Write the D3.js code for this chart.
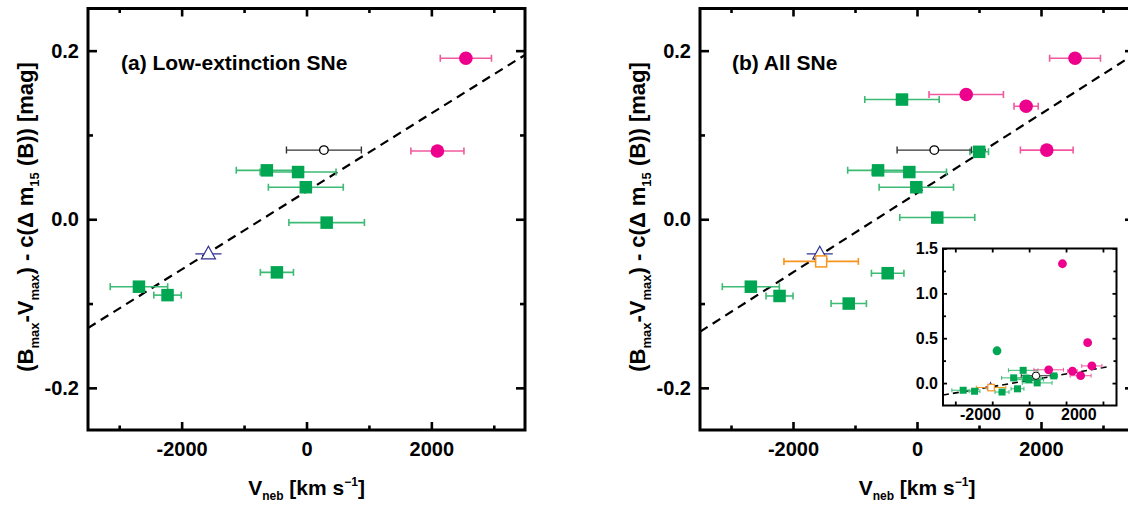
<!DOCTYPE html>
<html><head><meta charset="utf-8">
<script src="https://cdn.jsdelivr.net/npm/d3@7"></script>
<style>
html,body{margin:0;padding:0;background:#fff;}
svg text{font-family:"Liberation Sans",Arial,sans-serif;font-weight:bold;fill:#000;}
</style></head>
<body>
<svg id="chart" width="1128" height="506"></svg>
<script>
// ---------- data: [V_neb, value, xerr] ----------
// Panel (a) Low-extinction SNe
const aMagenta  = [[2553, 0.191, 410], [2097, 0.081, 425]];
const aOpen     = [[279, 0.082, 600]];
const aTriangle = [[-1571, -0.041, 210]];
const aGreen    = [[-635, 0.058, 490], [-135, 0.056, 608], [-11, 0.038, 600], [323, -0.004, 605],
                   [-474, -0.063, 265], [-2684, -0.080, 460], [-2226, -0.090, 220]];
const aFit      = [[-3500, -0.129], [3500, 0.195]];

// Panel (b) All SNe
const bMagenta  = [[2549, 0.191, 410], [794, 0.148, 600], [1760, 0.134, 195], [2093, 0.082, 425]];
const bOpen     = [[279, 0.082, 600]];
const bTriangle = [[-1568, -0.041, 210]];
const bOrange   = [[-1546, -0.050, 600]];
const bGreen    = [[-242, 0.142, 600], [1003, 0.080, 150], [-628, 0.058, 490], [-124, 0.056, 600],
                   [-11, 0.038, 600], [327, 0.002, 605], [-473, -0.064, 262], [-2680, -0.080, 460],
                   [-2217, -0.091, 218], [-1101, -0.100, 285]];
const bFit      = [[-3500, -0.1335], [3500, 0.1955]];

// Inset extra points (no error bars)
const insetMagenta = [[1354, 1.33], [2378, 0.45]];
const insetGreenCircle = [[-1305, 0.36]];
const insetFit = [[-3500, -0.1335], [3200, 0.181]];

// ticks
const xMajor = [-2000, 0, 2000];
const xMinor = [-3000, -1000, 1000, 3000];
const yMajor = [-0.2, 0.0, 0.2];
const yMinor = [-0.1, 0.1];
const insetXTicks = [-3000, -1500, 0, 1500, 3000];
const insetXLabels = [-2000, 0, 2000];
const insetYTicks = [0, 0.5, 1.0, 1.5];
const insetYMinor = [0.25, 0.75, 1.25];

const C = {
  green: "#00a651", greenErr: "#3dba74",
  magenta: "#ec008c", magentaErr: "#f0589f",
  orange: "#f7941d", navy: "#2e3192", black: "#000", blackErr: "#333"
};

const svg = d3.select("#chart");
svg.append("rect").attr("width", 1128).attr("height", 506).attr("fill", "#fff");

function errBars(g, data, x, y, color, cap, sw) {
  data.forEach(d => {
    if (!d[2]) return;
    const x0 = x(d[0] - d[2]), x1 = x(d[0] + d[2]), yy = y(d[1]);
    g.append("line").attr("x1", x0).attr("x2", x1).attr("y1", yy).attr("y2", yy)
      .attr("stroke", color).attr("stroke-width", sw);
    [x0, x1].forEach(xx => g.append("line").attr("x1", xx).attr("x2", xx)
      .attr("y1", yy - cap).attr("y2", yy + cap).attr("stroke", color).attr("stroke-width", sw));
  });
}
function squares(g, data, x, y, s, fill, stroke, sw) {
  g.selectAll(null).data(data).enter().append("rect")
    .attr("x", d => x(d[0]) - s / 2).attr("y", d => y(d[1]) - s / 2)
    .attr("width", s).attr("height", s)
    .attr("fill", fill).attr("stroke", stroke || "none").attr("stroke-width", sw || 0);
}
function circles(g, data, x, y, r, fill, stroke, sw) {
  g.selectAll(null).data(data).enter().append("circle")
    .attr("cx", d => x(d[0])).attr("cy", d => y(d[1])).attr("r", r)
    .attr("fill", fill).attr("stroke", stroke || "none").attr("stroke-width", sw || 0);
}
function triangles(g, data, x, y, w, up, down) {
  g.selectAll(null).data(data).enter().append("path")
    .attr("d", d => {
      const cx = x(d[0]), cy = y(d[1]);
      return `M${cx},${cy - up}L${cx + w / 2},${cy + down}L${cx - w / 2},${cy + down}Z`;
    })
    .attr("fill", "#fff").attr("stroke", C.navy).attr("stroke-width", 1.2);
}

function panel(opt) {
  const x = d3.scaleLinear().domain([-3500, 3500]).range([opt.left, opt.right]);
  const y = d3.scaleLinear().domain([-0.25, 0.25]).range([opt.bottom, opt.top]);
  const g = svg.append("g");
  const cid = "clip" + opt.id;
  svg.append("clipPath").attr("id", cid).append("rect")
    .attr("x", opt.left).attr("y", opt.top).attr("width", opt.right - opt.left).attr("height", opt.bottom - opt.top);
  const plot = g.append("g").attr("clip-path", `url(#${cid})`);

  // fit line
  plot.append("path").datum(opt.fit)
    .attr("d", d3.line().x(d => x(d[0])).y(d => y(d[1])))
    .attr("fill", "none").attr("stroke", "#000").attr("stroke-width", 2.2)
    .attr("stroke-dasharray", "9,6");

  // error bars
  errBars(plot, opt.green, x, y, C.greenErr, 3.5, 1.6);
  errBars(plot, opt.magenta, x, y, C.magentaErr, 3.5, 1.6);
  errBars(plot, opt.open, x, y, C.blackErr, 3.5, 1.4);
  errBars(plot, opt.tri, x, y, C.navy, 0, 1.2);
  if (opt.orange) errBars(plot, opt.orange, x, y, C.orange, 3.5, 1.6);

  // markers
  squares(plot, opt.green, x, y, 12.5, C.green);
  circles(plot, opt.magenta, x, y, 6.8, C.magenta);
  circles(plot, opt.open, x, y, 4.3, "#fff", "#000", 1.3);
  triangles(plot, opt.tri, x, y, 14, 7.5, 5);
  if (opt.orange) squares(plot, opt.orange, x, y, 11, "#fff", C.orange, 1.5);

  // axes (ticks inward)
  const fmtX = d => String(d);
  const fmtY = d => d.toFixed(1);
  const ax = g.append("g").attr("class", "axes");
  function style(sel) {
    sel.select(".domain").remove();
    sel.selectAll(".tick line").attr("stroke", "#000").attr("stroke-width", 2.6);
    sel.selectAll("text").style("font-size", "20px").attr("fill", "#000");
  }
  ax.append("g").attr("transform", `translate(0,${opt.bottom})`)
    .call(d3.axisBottom(x).tickValues(xMajor).tickSize(-8).tickPadding(12).tickFormat(fmtX)).call(style);
  ax.append("g").attr("transform", `translate(0,${opt.bottom})`)
    .call(d3.axisBottom(x).tickValues(xMinor).tickSize(-4.5).tickFormat("")).call(style);
  ax.append("g").attr("transform", `translate(0,${opt.top})`)
    .call(d3.axisTop(x).tickValues(xMajor).tickSize(-8).tickFormat("")).call(style);
  ax.append("g").attr("transform", `translate(0,${opt.top})`)
    .call(d3.axisTop(x).tickValues(xMinor).tickSize(-4.5).tickFormat("")).call(style);
  ax.append("g").attr("transform", `translate(${opt.left},0)`)
    .call(d3.axisLeft(y).tickValues(yMajor).tickSize(-9).tickPadding(9).tickFormat(fmtY)).call(style);
  ax.append("g").attr("transform", `translate(${opt.left},0)`)
    .call(d3.axisLeft(y).tickValues(yMinor).tickSize(-5).tickFormat("")).call(style);
  ax.append("g").attr("transform", `translate(${opt.right},0)`)
    .call(d3.axisRight(y).tickValues(yMajor).tickSize(-9).tickFormat("")).call(style);
  ax.append("g").attr("transform", `translate(${opt.right},0)`)
    .call(d3.axisRight(y).tickValues(yMinor).tickSize(-5).tickFormat("")).call(style);

  // frame
  g.append("rect").attr("x", opt.left).attr("y", opt.top)
    .attr("width", opt.right - opt.left).attr("height", opt.bottom - opt.top)
    .attr("fill", "none").attr("stroke", "#000").attr("stroke-width", 3);

  // title
  g.append("text").attr("x", opt.left + opt.titleDx).attr("y", 69.5)
    .style("font-size", "21px").text(opt.title);

  // x axis title
  const xc = x(0);
  const xt = g.append("text").attr("x", xc).attr("y", 495).attr("text-anchor", "middle").style("font-size", "21px");
  xt.append("tspan").text("V");
  xt.append("tspan").attr("dy", 5).style("font-size", "12px").text("neb");
  xt.append("tspan").attr("dy", -5).text(" [km s");
  xt.append("tspan").attr("dy", -9).style("font-size", "12px").text("\u22121");
  xt.append("tspan").attr("dy", 9).text("]");

  // y axis title
  const yt = g.append("text").attr("transform", `translate(${opt.left - 55},217) rotate(-90)`)
    .attr("text-anchor", "middle").style("font-size", "22px");
  yt.append("tspan").text("(B");
  yt.append("tspan").attr("dy", 6).style("font-size", "13px").text("max");
  yt.append("tspan").attr("dy", -6).text("-V");
  yt.append("tspan").attr("dy", 6).style("font-size", "13px").text("max");
  yt.append("tspan").attr("dy", -6).text(") - c(\u0394 m");
  yt.append("tspan").attr("dy", 6).style("font-size", "13px").text("15");
  yt.append("tspan").attr("dy", -6).text(" (B)) [mag]");
  return { x, y };
}

panel({ id: "a", left: 88, right: 525, top: 8.5, bottom: 430, title: "(a) Low-extinction SNe", titleDx: 33,
  green: aGreen, magenta: aMagenta, open: aOpen, tri: aTriangle, fit: aFit });
panel({ id: "b", left: 700, right: 1134, top: 8.5, bottom: 430, title: "(b) All SNe", titleDx: 32,
  green: bGreen, magenta: bMagenta, open: bOpen, tri: bTriangle, orange: bOrange, fit: bFit });

// ---------- inset ----------
(function inset() {
  const L = 943, R = 1116.5, T = 248.5, B = 405.5;
  const x = d3.scaleLinear().domain([-3500, 3550]).range([L, R]);
  const y = d3.scaleLinear().domain([-0.25, 1.5]).range([B, T]);
  const g = svg.append("g");
  g.append("rect").attr("x", L).attr("y", T).attr("width", R - L).attr("height", B - T).attr("fill", "#fff");
  svg.append("clipPath").attr("id", "clipI").append("rect").attr("x", L).attr("y", T).attr("width", R - L).attr("height", B - T);
  const plot = g.append("g").attr("clip-path", "url(#clipI)");

  plot.append("path").datum(insetFit)
    .attr("d", d3.line().x(d => x(d[0])).y(d => y(d[1])))
    .attr("fill", "none").attr("stroke", "#000").attr("stroke-width", 1.6).attr("stroke-dasharray", "6,4");

  errBars(plot, bGreen, x, y, C.greenErr, 2, 1);
  errBars(plot, bMagenta, x, y, C.magentaErr, 2, 1);
  errBars(plot, bOpen, x, y, C.blackErr, 2, 1);
  errBars(plot, bOrange, x, y, C.orange, 2, 1);
  errBars(plot, bTriangle, x, y, C.navy, 0, 0.8);

  squares(plot, bGreen, x, y, 7, C.green);
  circles(plot, insetGreenCircle, x, y, 4.4, C.green);
  circles(plot, bMagenta, x, y, 4.4, C.magenta);
  circles(plot, insetMagenta, x, y, 4.4, C.magenta);
  triangles(plot, bTriangle, x, y, 6, 4, 2.5);
  circles(plot, bOpen, x, y, 3.7, "#fff", "#000", 1);
  squares(plot, bOrange, x, y, 6.5, "#fff", C.orange, 1.2);

  function style(sel) {
    sel.select(".domain").remove();
    sel.selectAll(".tick line").attr("stroke", "#000").attr("stroke-width", 1.8);
    sel.selectAll("text").style("font-size", "16px").attr("fill", "#000");
  }
  g.append("g").attr("transform", `translate(0,${B})`)
    .call(d3.axisBottom(x).tickValues(insetXTicks).tickSize(-4).tickFormat("")).call(style);
  g.append("g").attr("transform", `translate(0,${B})`)
    .call(d3.axisBottom(x).tickValues(insetXLabels).tickSize(0).tickPadding(3).tickFormat(d => String(d))).call(style);
  g.append("g").attr("transform", `translate(0,${T})`)
    .call(d3.axisTop(x).tickValues(insetXTicks).tickSize(-4).tickFormat("")).call(style);
  g.append("g").attr("transform", `translate(${L},0)`)
    .call(d3.axisLeft(y).tickValues(insetYTicks).tickSize(-4).tickPadding(5).tickFormat(d => d.toFixed(1))).call(style);
  g.append("g").attr("transform", `translate(${L},0)`)
    .call(d3.axisLeft(y).tickValues(insetYMinor).tickSize(-3).tickFormat("")).call(style);
  g.append("g").attr("transform", `translate(${R},0)`)
    .call(d3.axisRight(y).tickValues(insetYTicks).tickSize(-4).tickFormat("")).call(style);
  g.append("g").attr("transform", `translate(${R},0)`)
    .call(d3.axisRight(y).tickValues(insetYMinor).tickSize(-3).tickFormat("")).call(style);
  g.append("rect").attr("x", L).attr("y", T).attr("width", R - L).attr("height", B - T)
    .attr("fill", "none").attr("stroke", "#000").attr("stroke-width", 2);
})();
</script>
</body></html>
